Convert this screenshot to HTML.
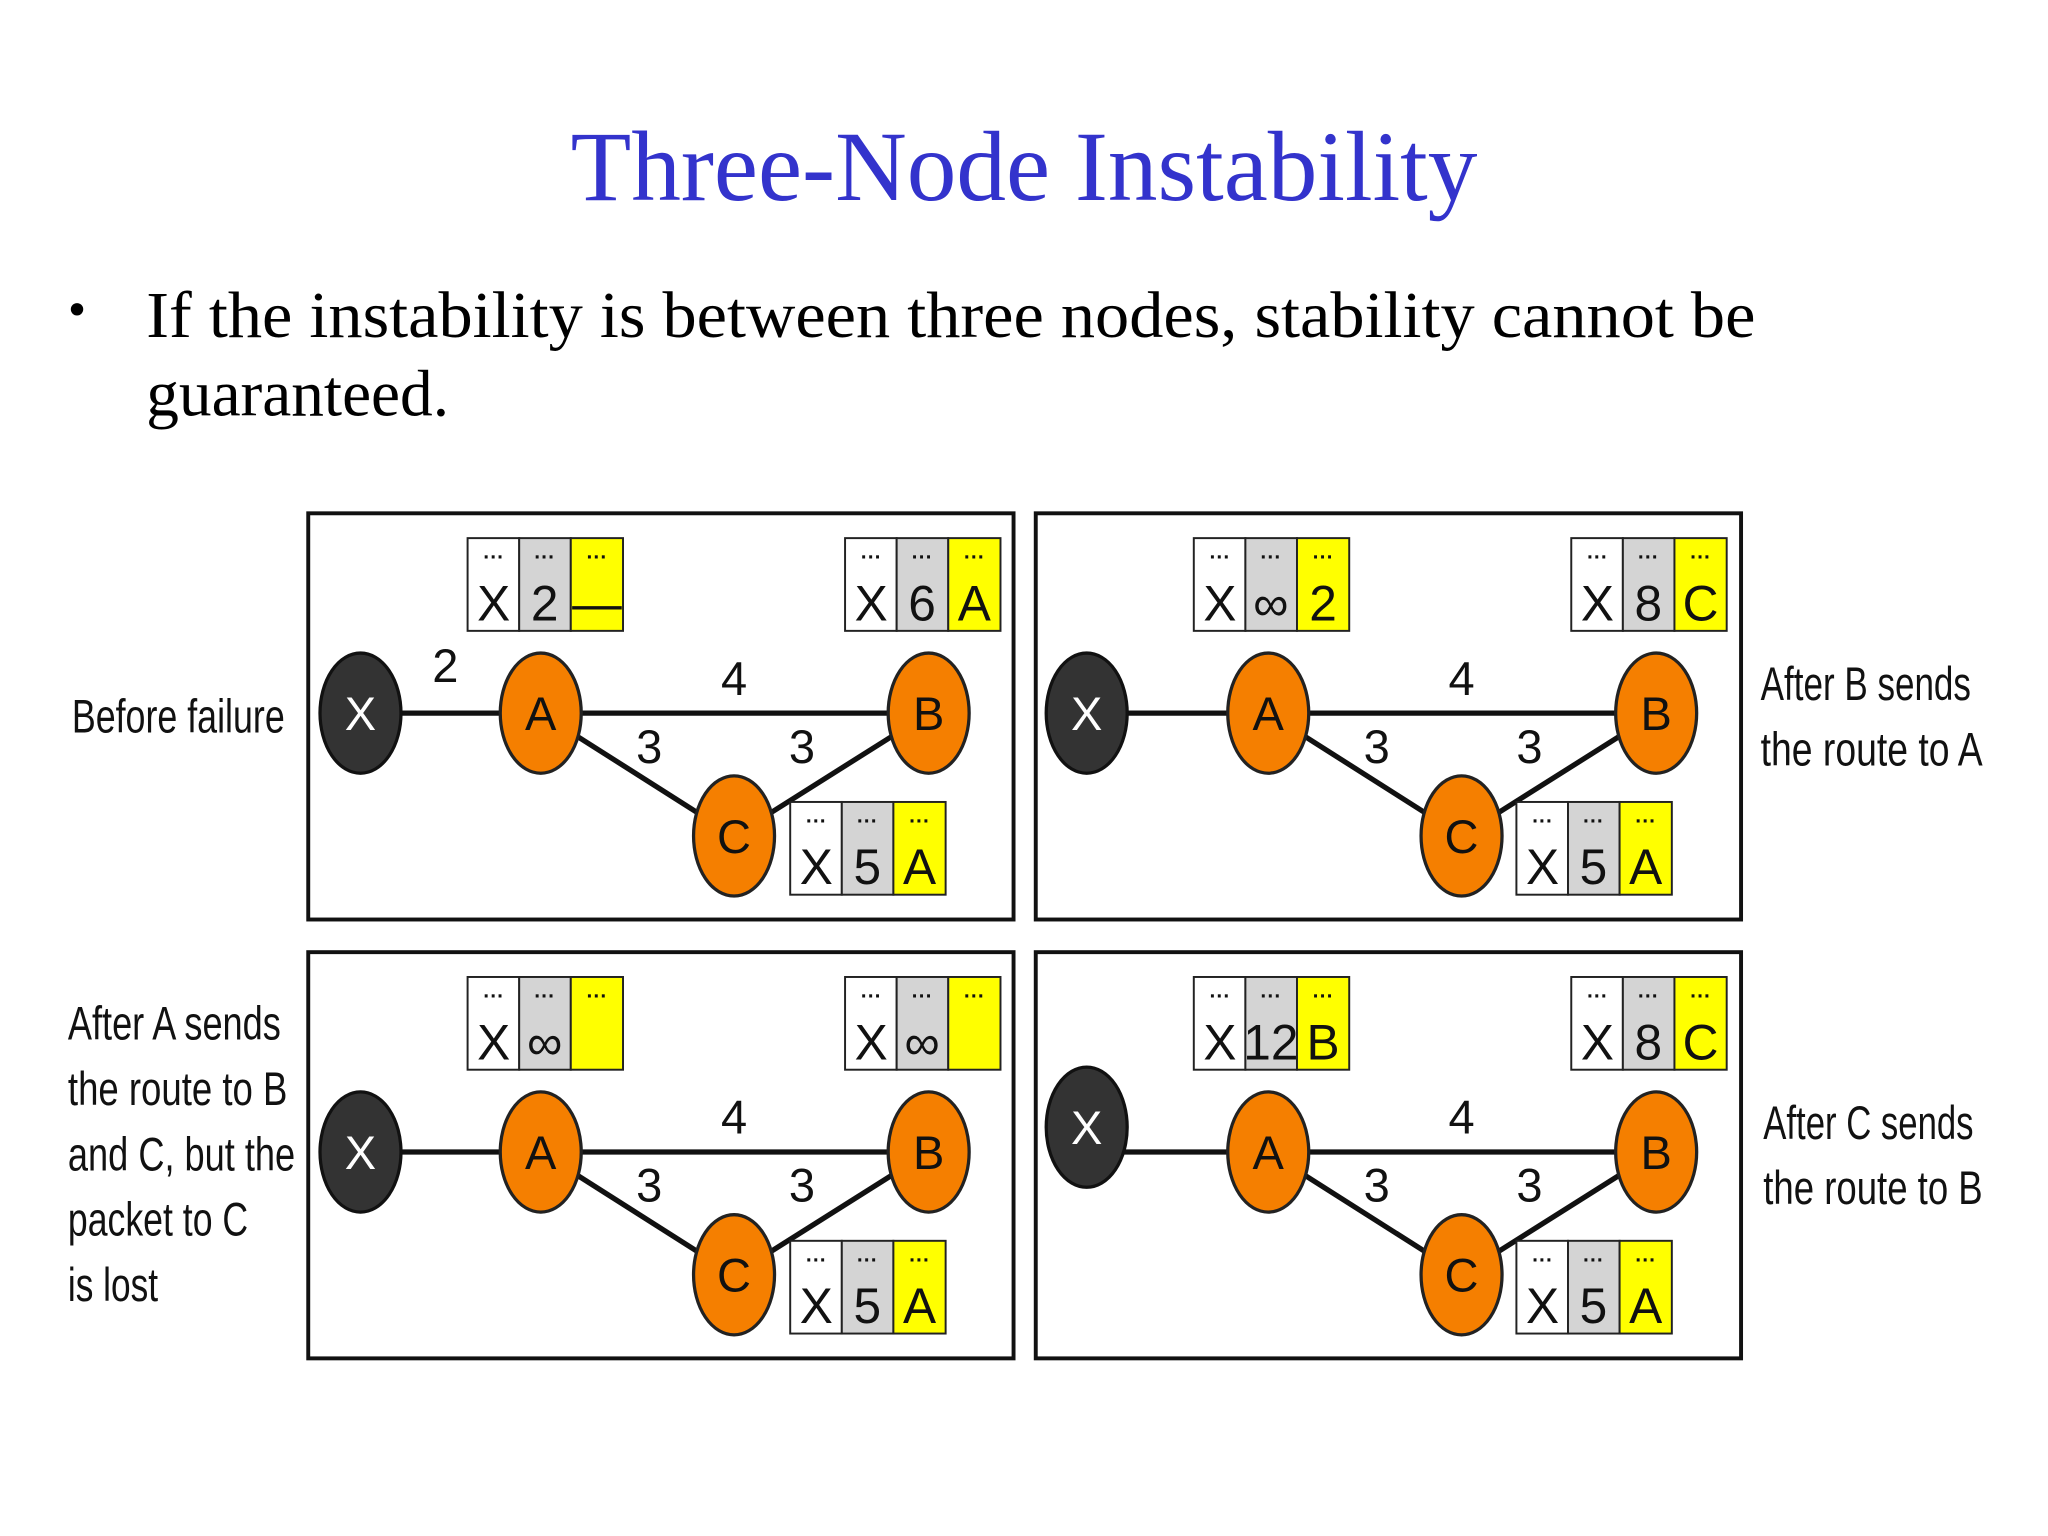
<!DOCTYPE html>
<html><head><meta charset="utf-8"><style>
html,body{margin:0;padding:0;background:#fff;width:2048px;height:1536px;overflow:hidden}
svg{display:block}
.c{font-family:"Liberation Sans Narrow","Liberation Sans",sans-serif;fill:#111}
.big{font-size:38px;text-anchor:middle}
.dot{font-size:16px;font-weight:bold;text-anchor:middle;font-family:"Liberation Sans",sans-serif}
.nl{font-size:36px;text-anchor:middle}
.side{font-size:36px}
</style></head><body>
<svg width="2048" height="1536" viewBox="0 0 1568 1176" xmlns="http://www.w3.org/2000/svg">
<defs>
<g id="tb">
<rect x="0" y="0" width="39.5" height="71" fill="#fff" stroke="#222" stroke-width="1.5"/>
<rect x="39.5" y="0" width="39.5" height="71" fill="#d4d4d4" stroke="#222" stroke-width="1.5"/>
<rect x="79" y="0" width="40" height="71" fill="#ffff00" stroke="#222" stroke-width="1.5"/>
<text class="dot c" x="20" y="20">···</text><text class="dot c" x="59" y="20">···</text><text class="dot c" x="99" y="20">···</text>
</g>
<g id="net">
<line x1="276" y1="546" x2="414" y2="546" stroke="#111" stroke-width="4"/>
<line x1="414" y1="546" x2="711" y2="546" stroke="#111" stroke-width="4"/>
<line x1="414" y1="546" x2="562" y2="640" stroke="#111" stroke-width="4"/>
<line x1="562" y1="640" x2="711" y2="546" stroke="#111" stroke-width="4"/>
<ellipse cx="414" cy="546" rx="31" ry="46" fill="#f57f00" stroke="#222" stroke-width="2.5"/>
<ellipse cx="711" cy="546" rx="31" ry="46" fill="#f57f00" stroke="#222" stroke-width="2.5"/>
<ellipse cx="562" cy="640" rx="31" ry="46" fill="#f57f00" stroke="#222" stroke-width="2.5"/>
<rect x="236" y="393" width="540" height="311" fill="none" stroke="#111" stroke-width="3"/>
</g>
</defs>

<text x="784" y="153" text-anchor="middle" style="font-family:'Liberation Serif',serif;font-size:76px;fill:#3333cc">Three-Node Instability</text>
<text x="52" y="250" style="font-family:'Liberation Serif',serif;font-size:40px;fill:#000">•</text>
<text x="112" y="258" style="font-family:'Liberation Serif',serif;font-size:50px;fill:#000" textLength="1232" lengthAdjust="spacingAndGlyphs">If the instability is between three nodes, stability cannot be</text>
<text x="112" y="318" style="font-family:'Liberation Serif',serif;font-size:50px;fill:#000">guaranteed.</text>

<!-- TL -->
<g>
<use href="#net"/>
<ellipse cx="276" cy="546" rx="31" ry="46" fill="#333" stroke="#111" stroke-width="2.5"/>
<text class="c nl" x="276" y="559" style="fill:#fff">X</text>
<text class="c nl" x="414" y="559">A</text><text class="c nl" x="711" y="559">B</text><text class="c nl" x="562" y="653">C</text>
<text class="c nl" x="341" y="522">2</text><text class="c nl" x="562" y="532">4</text><text class="c nl" x="497" y="584">3</text><text class="c nl" x="614" y="584">3</text>
<g transform="translate(358,412)"><use href="#tb"/><text class="c big" x="20" y="63">X</text><text class="c big" x="59" y="63">2</text><text class="c big" x="99" y="63">—</text></g>
<g transform="translate(647,412)"><use href="#tb"/><text class="c big" x="20" y="63">X</text><text class="c big" x="59" y="63">6</text><text class="c big" x="99" y="63">A</text></g>
<g transform="translate(605,614)"><use href="#tb"/><text class="c big" x="20" y="63">X</text><text class="c big" x="59" y="63">5</text><text class="c big" x="99" y="63">A</text></g>
</g>

<!-- TR -->
<g transform="translate(557,0)">
<use href="#net"/>
<ellipse cx="275" cy="546" rx="31" ry="46" fill="#333" stroke="#111" stroke-width="2.5"/>
<text class="c nl" x="275" y="559" style="fill:#fff">X</text>
<text class="c nl" x="414" y="559">A</text><text class="c nl" x="711" y="559">B</text><text class="c nl" x="562" y="653">C</text>
<text class="c nl" x="562" y="532">4</text><text class="c nl" x="497" y="584">3</text><text class="c nl" x="614" y="584">3</text>
<g transform="translate(357,412)"><use href="#tb"/><text class="c big" x="20" y="63">X</text><text class="c big" x="59" y="63">∞</text><text class="c big" x="99" y="63">2</text></g>
<g transform="translate(646,412)"><use href="#tb"/><text class="c big" x="20" y="63">X</text><text class="c big" x="59" y="63">8</text><text class="c big" x="99" y="63">C</text></g>
<g transform="translate(604,614)"><use href="#tb"/><text class="c big" x="20" y="63">X</text><text class="c big" x="59" y="63">5</text><text class="c big" x="99" y="63">A</text></g>
</g>

<!-- BL -->
<g transform="translate(0,336)">
<use href="#net"/>
<ellipse cx="276" cy="546" rx="31" ry="46" fill="#333" stroke="#111" stroke-width="2.5"/>
<text class="c nl" x="276" y="559" style="fill:#fff">X</text>
<text class="c nl" x="414" y="559">A</text><text class="c nl" x="711" y="559">B</text><text class="c nl" x="562" y="653">C</text>
<text class="c nl" x="562" y="532">4</text><text class="c nl" x="497" y="584">3</text><text class="c nl" x="614" y="584">3</text>
<g transform="translate(358,412)"><use href="#tb"/><text class="c big" x="20" y="63">X</text><text class="c big" x="59" y="63">∞</text></g>
<g transform="translate(647,412)"><use href="#tb"/><text class="c big" x="20" y="63">X</text><text class="c big" x="59" y="63">∞</text></g>
<g transform="translate(605,614)"><use href="#tb"/><text class="c big" x="20" y="63">X</text><text class="c big" x="59" y="63">5</text><text class="c big" x="99" y="63">A</text></g>
</g>

<!-- BR -->
<g transform="translate(557,336)">
<use href="#net"/>
<ellipse cx="275" cy="527" rx="31" ry="46" fill="#333" stroke="#111" stroke-width="2.5"/>
<text class="c nl" x="275" y="540" style="fill:#fff">X</text>
<text class="c nl" x="414" y="559">A</text><text class="c nl" x="711" y="559">B</text><text class="c nl" x="562" y="653">C</text>
<text class="c nl" x="562" y="532">4</text><text class="c nl" x="497" y="584">3</text><text class="c nl" x="614" y="584">3</text>
<g transform="translate(357,412)"><use href="#tb"/><text class="c big" x="20" y="63">X</text><text class="c big" x="59" y="63">12</text><text class="c big" x="99" y="63">B</text></g>
<g transform="translate(646,412)"><use href="#tb"/><text class="c big" x="20" y="63">X</text><text class="c big" x="59" y="63">8</text><text class="c big" x="99" y="63">C</text></g>
<g transform="translate(604,614)"><use href="#tb"/><text class="c big" x="20" y="63">X</text><text class="c big" x="59" y="63">5</text><text class="c big" x="99" y="63">A</text></g>
</g>

<!-- side labels -->
<text class="c side" x="55" y="561" textLength="163" lengthAdjust="spacingAndGlyphs">Before failure</text>
<text class="c side" x="1348" y="536" textLength="161" lengthAdjust="spacingAndGlyphs">After B sends</text>
<text class="c side" x="1348" y="586" textLength="170" lengthAdjust="spacingAndGlyphs">the route to A</text>
<text class="c side" x="52" y="796" textLength="163" lengthAdjust="spacingAndGlyphs">After A sends</text>
<text class="c side" x="52" y="846" textLength="168" lengthAdjust="spacingAndGlyphs">the route to B</text>
<text class="c side" x="52" y="896" textLength="174" lengthAdjust="spacingAndGlyphs">and C, but the</text>
<text class="c side" x="52" y="946" textLength="138" lengthAdjust="spacingAndGlyphs">packet to C</text>
<text class="c side" x="52" y="996" textLength="69" lengthAdjust="spacingAndGlyphs">is lost</text>
<text class="c side" x="1350" y="872" textLength="161" lengthAdjust="spacingAndGlyphs">After C sends</text>
<text class="c side" x="1350" y="922" textLength="168" lengthAdjust="spacingAndGlyphs">the route to B</text>
</svg>
</body></html>
